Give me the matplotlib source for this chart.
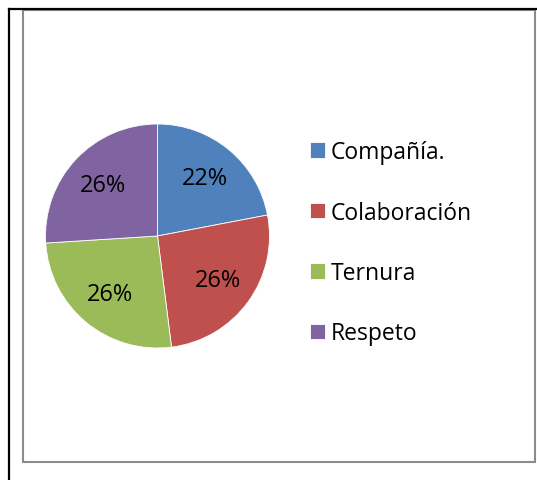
import matplotlib
matplotlib.use("Agg")
import matplotlib.pyplot as plt
from matplotlib.lines import Line2D
from matplotlib.patches import Rectangle

# datos
categorias = ["Compañía.", "Colaboración", "Ternura", "Respeto"]
valores = [22, 26, 26, 26]
colores = ["#4F81BD", "#C0504D", "#9BBB59", "#8064A2"]

plt.rcParams['font.family'] = ['Open Sans', 'DejaVu Sans']

W, H = 537, 481
fig = plt.figure(figsize=(W / 100, H / 100), dpi=100)

def fx(px):
    return px / W

def fy(py):
    return 1 - py / H

# marco gris del grafico
fig.add_artist(Rectangle((fx(23), fy(462.5)), fx(535) - fx(23), fy(11) - fy(462.5),
                         transform=fig.transFigure, fill=False,
                         edgecolor="#8c8c8c", linewidth=1.5))
# lineas negras (borde de la celda)
fig.add_artist(Line2D([fx(9), fx(537)], [fy(10), fy(10)], transform=fig.transFigure,
                      color="black", linewidth=1.6))
fig.add_artist(Line2D([fx(9), fx(9)], [fy(10), fy(481)], transform=fig.transFigure,
                      color="black", linewidth=1.6))

# pastel
cx, cy, r = 157.5, 237, 112
ax = fig.add_axes([fx(cx - r), fy(cy + r), (2 * r) / W, (2 * r) / H])
cunas, textos, pcts = ax.pie(valores, colors=colores, startangle=90, counterclock=False,
                             autopct='%1.0f%%', pctdistance=0.67,
                             wedgeprops=dict(linewidth=0.6, edgecolor="white"),
                             textprops=dict(fontsize=17, color="black"))
ax.set_xlim(-1, 1)
ax.set_ylim(-1, 1)
ax.set_aspect('equal')
ax.axis('off')

fig.legend(cunas, categorias, loc='upper left',
           bbox_to_anchor=(fx(301), fy(132)), frameon=False,
           fontsize=16.5, handlelength=0.65, handleheight=0.65,
           handletextpad=0.25, labelspacing=1.59, borderaxespad=0)

fig.savefig("out.png", dpi=100)
